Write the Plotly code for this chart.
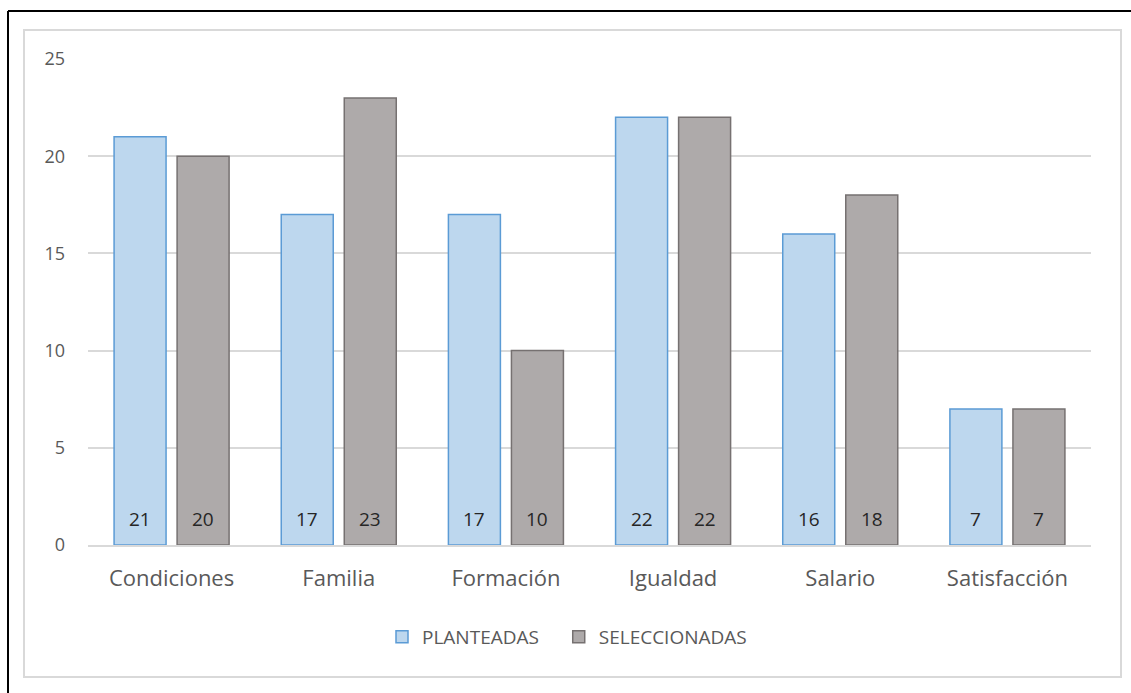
import plotly.graph_objects as go

categories = ["Condiciones", "Familia", "Formación", "Igualdad", "Salario", "Satisfacción"]
planteadas = [21, 17, 17, 22, 16, 7]
seleccionadas = [20, 23, 10, 22, 18, 7]
series_names = ["PLANTEADAS", "SELECCIONADAS"]

W, H = 1131, 693
L, R, T, B = 88, 40, 59, 148
pw, ph = W - L - R, H - T - B
BARGAP, GROUPGAP = 0.246, 0.175
PAD = "\u00a0" * 3  # extra spacing between legend entries

def px_x(x):
    return (x - L) / pw

def px_y(y):
    return (H - B - y) / ph

fig = go.Figure()
fig.add_trace(go.Bar(
    x=categories, y=planteadas, name=series_names[0] + PAD,
    marker=dict(color="#BDD7EE", line=dict(color="#5B9BD5", width=1.5)),
))
fig.add_trace(go.Bar(
    x=categories, y=seleccionadas, name=series_names[1],
    marker=dict(color="#AEAAAA", line=dict(color="#767171", width=1.5)),
))

# value labels near the base of each bar
slot = pw / len(categories) * (1 - BARGAP) / 2
annotations = []
for vals, sign in ((planteadas, -1), (seleccionadas, 1)):
    for c, v in zip(categories, vals):
        annotations.append(dict(
            x=c, y=0, xref="x", yref="y", text=str(v), showarrow=False,
            xshift=sign * slot / 2, yshift=26, yanchor="middle",
            font=dict(size=19, color="#262626", family="Open Sans"),
        ))

shapes = [
    dict(type="rect", xref="paper", yref="paper",
         x0=px_x(24), x1=px_x(1121), y0=px_y(677), y1=px_y(30),
         line=dict(color="#D9D9D9", width=2), fillcolor="rgba(0,0,0,0)", layer="below"),
    dict(type="line", xref="paper", yref="paper",
         x0=px_x(8), x1=px_x(1131), y0=px_y(11), y1=px_y(11),
         line=dict(color="#000000", width=2)),
    dict(type="line", xref="paper", yref="paper",
         x0=px_x(8), x1=px_x(8), y0=px_y(11), y1=px_y(693),
         line=dict(color="#000000", width=2)),
]

fig.update_layout(
    width=W, height=H,
    margin=dict(l=L, r=R, t=T, b=B, pad=0),
    paper_bgcolor="white", plot_bgcolor="white",
    barmode="group", bargap=BARGAP, bargroupgap=GROUPGAP,
    font=dict(family="Open Sans", color="#595959"),
    showlegend=True,
    legend=dict(orientation="h", x=px_x(382), xanchor="left", y=px_y(637), yanchor="middle",
                font=dict(size=19, color="#595959"), itemclick=False, traceorder="normal"),
    shapes=shapes,
    annotations=annotations,
    xaxis=dict(showgrid=False, showline=True, linecolor="#D9D9D9", linewidth=1.5,
               ticks="", tickfont=dict(size=22, color="#595959"), ticklabelstandoff=13,
               fixedrange=True),
    yaxis=dict(range=[0, 25], dtick=5, showgrid=True, gridcolor="#D9D9D9", gridwidth=1.5,
               zeroline=False, showline=False, ticks="",
               tickfont=dict(size=18, color="#595959"), ticklabelstandoff=22,
               fixedrange=True),
)

fig.write_html("out.html")
